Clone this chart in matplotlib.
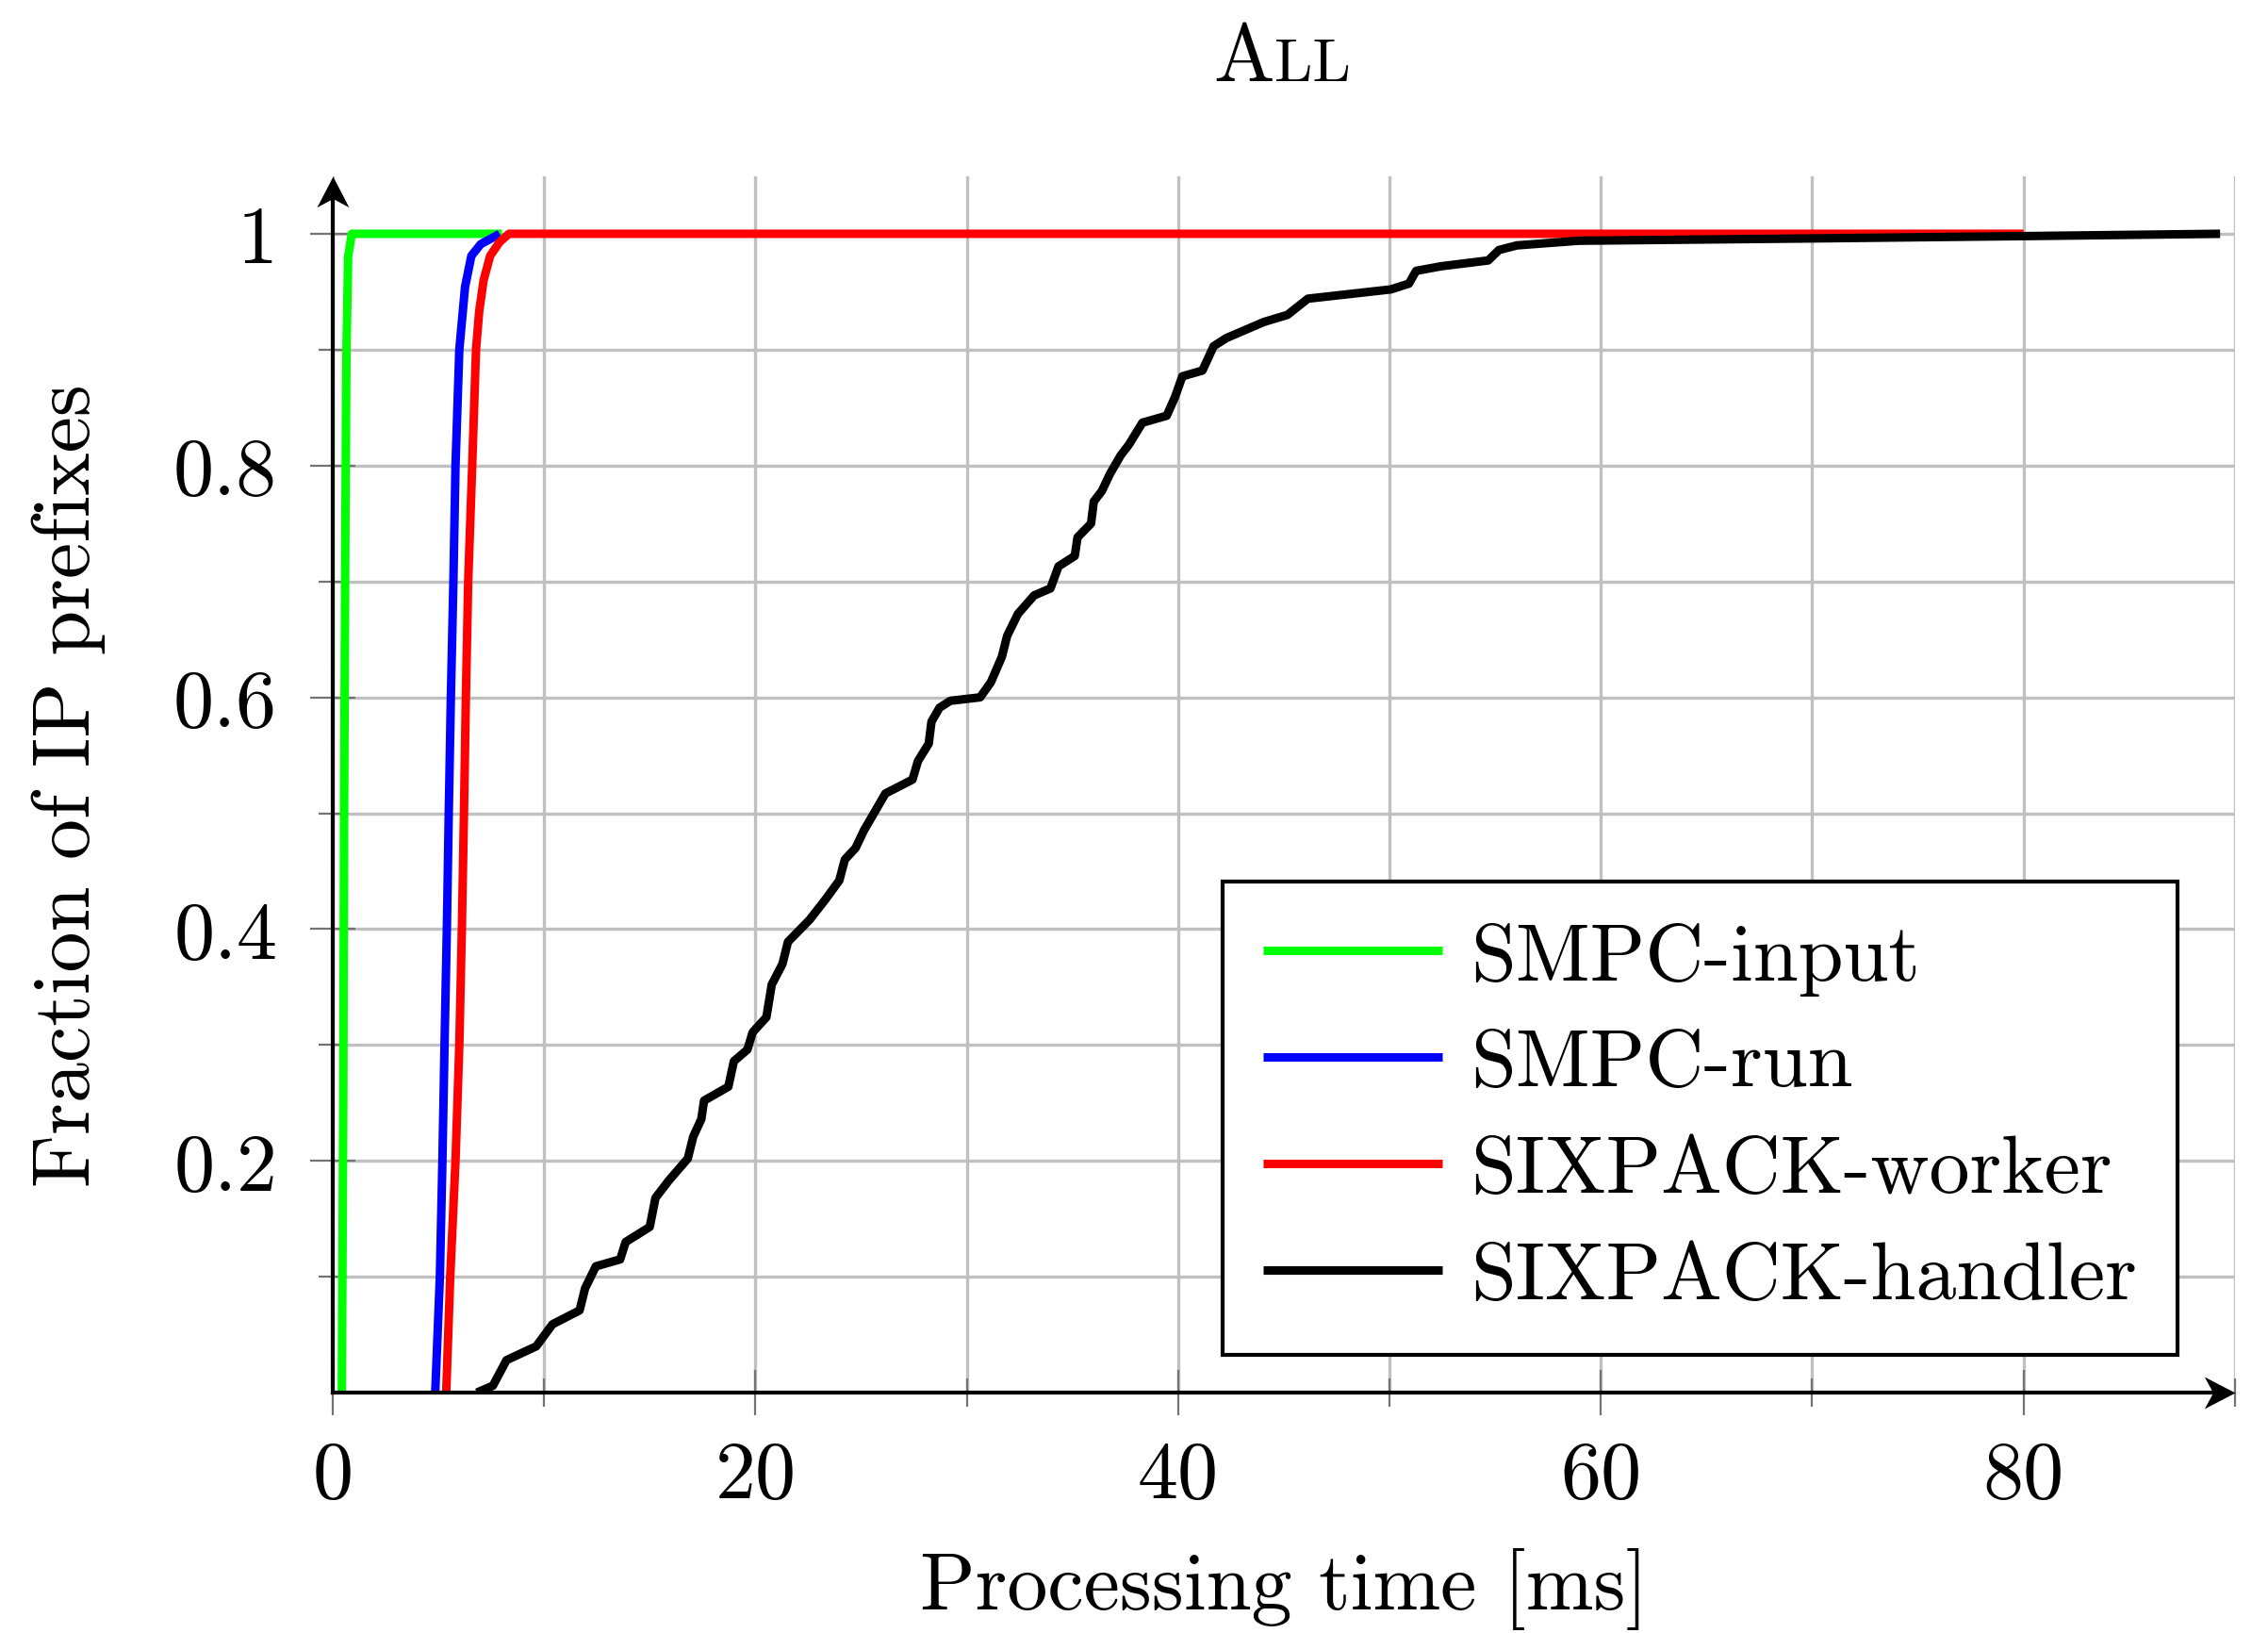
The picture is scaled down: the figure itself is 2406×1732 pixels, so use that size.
import numpy as np
import matplotlib
matplotlib.use('Agg')
import matplotlib.pyplot as plt
from matplotlib.path import Path

plt.rcParams['font.family'] = 'cmr10'
plt.rcParams['axes.formatter.use_mathtext'] = True

# --- data (processing time [ms] vs CDF) ---
input_ms   = [0.43, 0.50, 0.54, 0.60, 0.65, 0.73, 0.90, 8.0]
input_frac = [0.0, 0.25, 0.50, 0.75, 0.90, 0.98, 1.0, 1.0]

run_ms   = [4.85, 5.07, 5.19, 5.29, 5.40, 5.49, 5.59, 5.71, 5.81, 5.99, 6.26, 6.56, 7.0, 7.6, 7.9]
run_frac = [0.0, 0.1, 0.2, 0.3, 0.4, 0.5, 0.6, 0.7, 0.8, 0.9, 0.954, 0.981, 0.991, 0.997, 1.0]

worker_ms   = [5.37, 5.56, 5.81, 5.99, 6.11, 6.21, 6.30, 6.41, 6.60, 6.78, 6.93, 7.14, 7.45, 7.9, 8.34, 80.0]
worker_frac = [0.0, 0.1, 0.2, 0.3, 0.4, 0.5, 0.6, 0.7, 0.8, 0.9, 0.933, 0.96, 0.981, 0.993, 1.0, 1.0]

handler_ms = [6.82, 7.58, 8.22, 9.63, 10.40, 11.68, 11.94, 12.45, 13.6, 13.86, 15.0, 15.27, 15.9,
              16.8, 17.06, 17.44, 17.57, 18.72, 18.98, 19.62, 19.87, 20.52, 20.77, 21.28, 21.54,
              22.56, 23.33, 23.97, 24.23, 24.74, 25.13, 26.15, 27.43, 27.69, 28.2, 28.33, 28.71,
              29.22, 30.63, 31.14, 31.66, 31.91, 32.42, 33.19, 33.96, 34.34, 35.11, 35.24, 35.88,
              36.01, 36.39, 36.78, 37.29, 37.67, 38.31, 39.46, 39.85, 40.2, 41.15, 41.68, 42.28,
              43.3, 44.07, 45.17, 46.14, 50.06, 50.92, 51.26, 52.45, 54.67, 55.18, 56.03, 58.94,
              70.0, 80.0, 89.3]
handler_frac = [0.0, 0.006, 0.028, 0.040, 0.059, 0.071, 0.090, 0.109, 0.115, 0.130, 0.143, 0.168,
                0.183, 0.202, 0.221, 0.236, 0.252, 0.264, 0.286, 0.296, 0.311, 0.324, 0.352, 0.370,
                0.389, 0.408, 0.426, 0.442, 0.460, 0.470, 0.485, 0.517, 0.529, 0.545, 0.560, 0.579,
                0.591, 0.597, 0.600, 0.613, 0.635, 0.653, 0.672, 0.688, 0.694, 0.713, 0.722, 0.738,
                0.750, 0.769, 0.778, 0.793, 0.809, 0.818, 0.837, 0.843, 0.859, 0.877, 0.882, 0.903,
                0.910, 0.918, 0.924, 0.930, 0.944, 0.952, 0.957, 0.968, 0.972, 0.977, 0.986, 0.990,
                0.994, 0.996, 0.998, 1.0]

labels = ['SMPC-input', 'SMPC-run', 'SIXPACK-worker', 'SIXPACK-handler']
colors = ['#00ff00', '#0000ff', '#ff0000', '#000000']

x_major = [0, 20, 40, 60, 80]
x_minor = [10, 30, 50, 70, 90]
y_major = [0.2, 0.4, 0.6, 0.8, 1.0]
y_minor = [0.1, 0.3, 0.5, 0.7, 0.9]
y_ticklabels = ['0.2', '0.4', '0.6', '0.8', '1']

FS = 62
fig = plt.figure(figsize=(24.06, 17.33), dpi=100)
ax = fig.add_axes([0.1467, 0.1471, 0.8387, 0.7447])

series = [(input_ms, input_frac), (run_ms, run_frac), (worker_ms, worker_frac), (handler_ms, handler_frac)]
for (xs, ys), lab, col in zip(series, labels, colors):
    ax.plot(xs, ys, color=col, lw=6.5, label=lab, solid_capstyle='butt', solid_joinstyle='round', zorder=3)

ax.set_xlim(0, 90)
ax.set_ylim(0, 1.05)
ax.set_xticks(x_major)
ax.set_xticks(x_minor, minor=True)
ax.set_xticklabels([str(v) for v in x_major])
ax.set_yticks(y_major)
ax.set_yticks(y_minor, minor=True)
ax.set_yticklabels(y_ticklabels)
ax.grid(True, which='both', color='#c0c0c0', lw=2.4, zorder=0)
ax.set_axisbelow(True)
ax.tick_params(which='major', direction='inout', length=34.6, width=1.6, color='0.45',
               labelsize=FS)
ax.tick_params(which='minor', direction='inout', length=22, width=1.6, color='0.45')
ax.tick_params(axis='x', which='major', pad=19)
ax.tick_params(axis='y', which='major', pad=25)

for s in ['top', 'right']:
    ax.spines[s].set_visible(False)
for s in ['left', 'bottom']:
    ax.spines[s].set_linewidth(3)
    ax.spines[s].set_zorder(4)
ax.spines['left'].set_bounds(0, 1.03)
ax.spines['bottom'].set_bounds(0, 89)

# latex style arrow heads on the axes
head_r = Path([(0, 0), (-1, 0.52), (-0.72, 0), (-1, -0.52), (0, 0)],
              [Path.MOVETO, Path.LINETO, Path.LINETO, Path.LINETO, Path.CLOSEPOLY])
head_u = Path([(0, 0), (0.52, -1), (0, -0.72), (-0.52, -1), (0, 0)],
              [Path.MOVETO, Path.LINETO, Path.LINETO, Path.LINETO, Path.CLOSEPOLY])
ax.plot([1], [0], marker=head_r, ms=47, color='k', mew=0, transform=ax.transAxes, clip_on=False, zorder=5)
ax.plot([0], [1], marker=head_u, ms=47, color='k', mew=0, transform=ax.transAxes, clip_on=False, zorder=5)

ax.set_xlabel('Processing time [ms]', fontsize=FS)
ax.xaxis.set_label_coords(0.5, -0.1775)
ax.xaxis.label.set_va('baseline')
ax.set_ylabel('Fraction of IP prefixes', fontsize=FS)
ax.yaxis.set_label_coords(-0.1278, 0.5)
ax.yaxis.label.set_va('baseline')

# small caps title "ALL"
fig.text(0.5619, 0.9504, 'A', fontsize=FS, ha='right', va='baseline')
fig.text(0.5619, 0.9504, 'LL', fontsize=FS * 0.75, ha='left', va='baseline')

leg = ax.legend(loc='lower right', bbox_to_anchor=(0.9698, 0.031), borderaxespad=0,
                fontsize=FS, handlelength=2.2, handletextpad=0.35, labelspacing=0.41,
                borderpad=0.5, fancybox=False, framealpha=1, edgecolor='k')
leg.get_frame().set_linewidth(3)

fig.savefig('out.png', dpi=100)
